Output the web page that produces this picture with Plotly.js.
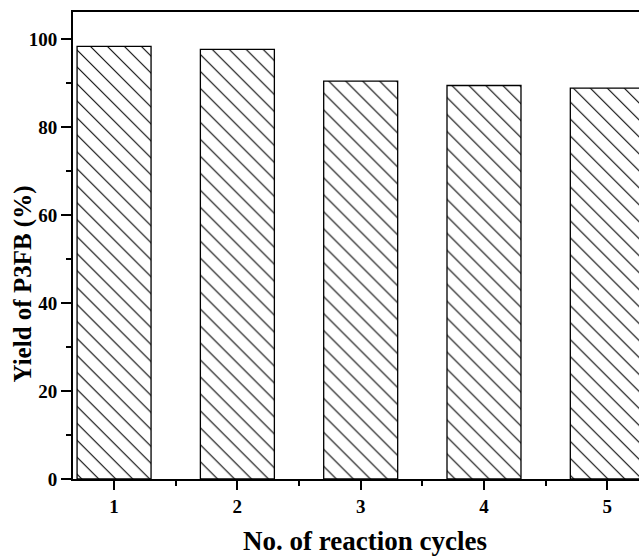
<!DOCTYPE html>
<html>
<head>
<meta charset="utf-8">
<script src="https://cdn.plot.ly/plotly-3.0.1.min.js"></script>
<style>html,body{margin:0;padding:0;overflow:hidden;background:#fff;}</style>
</head>
<body>
<div id="chart" style="width:639px;height:556px;"></div>
<script>
var cycles = [1, 2, 3, 4, 5];
var yieldP3FB = [98.3, 97.6, 90.4, 89.4, 88.8];
var xTitle = 'No. of reaction cycles';
var yTitle = 'Yield of P3FB (%)';

var FONT = '"Liberation Serif", "Times New Roman", serif';

var trace = {
  type: 'bar',
  x: cycles,
  y: yieldP3FB,
  width: 0.6,
  marker: {
    color: 'white',
    line: {color: 'black', width: 1.3},
    pattern: {shape: '\\', size: 12, solidity: 0.09, fgcolor: 'black', bgcolor: 'white', fillmode: 'replace'}
  },
  hoverinfo: 'none'
};

var layout = {
  width: 639,
  height: 556,
  margin: {l: 73, r: 0, t: 12, b: 77},
  paper_bgcolor: 'white',
  plot_bgcolor: 'white',
  showlegend: false,
  font: {family: FONT, color: 'black'},
  xaxis: {
    range: [0.667, 5.257],
    tickmode: 'linear', tick0: 1, dtick: 1,
    ticks: 'outside', ticklen: 9, tickwidth: 2, tickcolor: 'black',
    minor: {dtick: 0.5, ticks: 'outside', ticklen: 5, tickwidth: 2, tickcolor: 'black'},
    showline: true, linewidth: 2, linecolor: 'black', mirror: true,
    showgrid: false, zeroline: false,
    tickfont: {family: FONT, size: 19, color: 'black', weight: 'bold'},
    automargin: false, fixedrange: true
  },
  yaxis: {
    range: [0, 106.1],
    tickmode: 'linear', tick0: 0, dtick: 20,
    ticks: 'outside', ticklen: 10, tickwidth: 2, tickcolor: 'black',
    minor: {dtick: 10, ticks: 'outside', ticklen: 5, tickwidth: 2, tickcolor: 'black'},
    showline: true, linewidth: 2, linecolor: 'black', mirror: false,
    showgrid: false, zeroline: false,
    tickfont: {family: FONT, size: 19, color: 'black', weight: 'bold'},
    automargin: false, fixedrange: true
  },
  annotations: [
    {text: xTitle, xref: 'paper', yref: 'paper', x: 0.5155, y: -0.1324,
     xanchor: 'center', yanchor: 'middle', showarrow: false,
     font: {family: FONT, size: 27, color: 'black', weight: 'bold'}},
    {text: yTitle, xref: 'paper', yref: 'paper', x: -0.088, y: 0.417,
     xanchor: 'center', yanchor: 'middle', showarrow: false, textangle: -90,
     font: {family: FONT, size: 25, color: 'black', weight: 'bold'}}
  ]
};

Plotly.newPlot('chart', [trace], layout, {staticPlot: true, displayModeBar: false});
</script>
</body>
</html>
